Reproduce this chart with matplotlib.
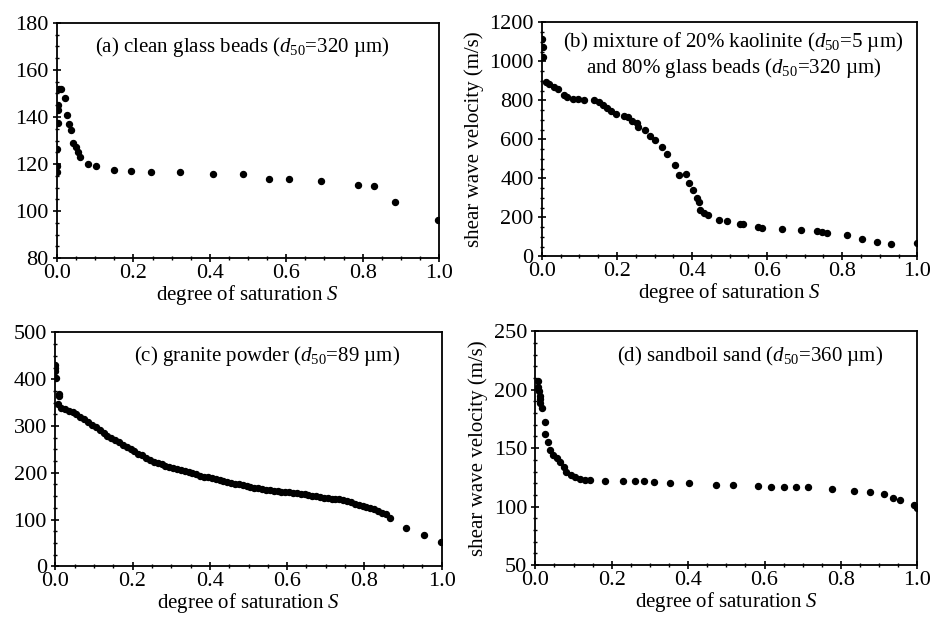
import matplotlib
matplotlib.use("Agg")
import matplotlib.pyplot as plt
from matplotlib.ticker import MultipleLocator

plt.rcParams['font.family'] = ['Liberation Serif', 'DejaVu Serif']
plt.rcParams['mathtext.fontset'] = 'custom'
plt.rcParams['mathtext.rm'] = 'Liberation Serif'
plt.rcParams['mathtext.it'] = 'Liberation Serif:italic'

# (a) clean glass beads
sa = [0.0, 0.0, 0.0, 0.002, 0.002, 0.002, 0.004, 0.011, 0.02, 0.026, 0.032, 0.037,
      0.042, 0.049, 0.054, 0.061, 0.081, 0.102, 0.148, 0.193, 0.247, 0.322, 0.408,
      0.488, 0.556, 0.608, 0.692, 0.788, 0.829, 0.886, 0.997]
va = [116.6, 119.1, 126.2, 137.4, 142.8, 145.0, 152.0, 152.0, 148.2, 140.7, 136.9, 134.6,
      128.9, 127.2, 125.1, 123.0, 120.1, 119.0, 117.6, 117.2, 116.5, 116.5, 115.9,
      115.6, 113.8, 113.8, 113.0, 111.2, 110.6, 103.8, 96.0]

# (b) kaolinite + glass beads
sb = [0.0, 0.002, 0.004, 0.012, 0.02, 0.031, 0.042, 0.058, 0.068, 0.084, 0.095, 0.113,
      0.138, 0.151, 0.163, 0.173, 0.184, 0.198, 0.218, 0.228, 0.24, 0.253, 0.256, 0.274,
      0.287, 0.30, 0.32, 0.332, 0.354, 0.364, 0.385, 0.393, 0.402, 0.412, 0.418, 0.422,
      0.431, 0.442, 0.471, 0.493, 0.527, 0.536, 0.576, 0.587, 0.64, 0.689, 0.733, 0.747,
      0.76, 0.813, 0.853, 0.893, 0.929, 1.0]
vb = [1114, 1072, 1020, 892, 884, 870, 858, 829, 816, 807, 807, 802,
      799, 790, 778, 761, 747, 730, 717, 713, 696, 683, 662, 648,
      619, 594, 560, 526, 469, 415, 423, 375, 341, 300, 278, 235,
      222, 210, 188, 179, 167, 164, 150, 147, 142, 133, 128, 125,
      119, 111, 90, 73, 65, 70]

# (c) granite powder
sc = [0.0, 0.0, 0.0, 0.002, 0.011, 0.01, 0.006,
      0.015, 0.025, 0.035, 0.045, 0.055, 0.065, 0.075, 0.085, 0.095, 0.105,
      0.115, 0.125, 0.135, 0.145, 0.155, 0.165, 0.175, 0.185, 0.195, 0.205,
      0.215, 0.225, 0.235, 0.245, 0.255, 0.265, 0.275, 0.285, 0.295, 0.305,
      0.315, 0.325, 0.335, 0.345, 0.355, 0.365, 0.375, 0.385, 0.395, 0.405,
      0.415, 0.425, 0.435, 0.445, 0.455, 0.465, 0.475, 0.485, 0.495, 0.505,
      0.515, 0.525, 0.535, 0.545, 0.555, 0.565, 0.575, 0.585, 0.595, 0.605,
      0.615, 0.625, 0.635, 0.645, 0.655, 0.665, 0.675, 0.685, 0.695, 0.705,
      0.715, 0.725, 0.735, 0.745, 0.755, 0.765, 0.775, 0.785, 0.795, 0.805,
      0.815, 0.825, 0.835, 0.845, 0.855, 0.865, 0.908, 0.954, 0.997]
vc = [431, 424, 417, 402, 364, 368, 347,
      339, 336, 332, 329, 326, 320, 315, 309, 303, 298,
      291, 284, 279, 274, 270, 265, 260, 255, 250, 246,
      241, 237, 232, 228, 224, 220, 218, 215, 213, 210,
      208, 205, 203, 201, 199, 197, 194, 192, 190, 188,
      186, 184, 183, 181, 179, 177, 175, 173, 171, 170,
      168, 167, 165, 164, 163, 162, 161, 160, 159, 158,
      157, 156, 155, 154, 152, 151, 150, 149, 147, 146,
      145, 144, 143, 141, 139, 137, 134, 131, 129, 127,
      124, 122, 119, 115, 111, 103, 83, 66, 53]

# (d) sandboil sand
sd = [0.006, 0.008, 0.01, 0.011, 0.011, 0.013, 0.016, 0.024, 0.026, 0.032, 0.037, 0.046,
      0.057, 0.065, 0.074, 0.081, 0.092, 0.105, 0.118, 0.131, 0.144, 0.181, 0.229, 0.262,
      0.285, 0.31, 0.353, 0.401, 0.473, 0.517, 0.582, 0.616, 0.651, 0.682, 0.713, 0.776,
      0.833, 0.876, 0.913, 0.937, 0.955, 0.991, 1.0]
vd = [207.4, 202.6, 198.9, 194.7, 191.8, 189.0, 183.9, 172.0, 162.0, 155.0, 148.7, 144.2,
      141.3, 137.9, 133.7, 130.0, 127.2, 125.2, 123.8, 123.2, 123.2, 122.3, 122.3, 122.3,
      121.5, 120.9, 120.4, 120.4, 118.9, 118.1, 117.5, 117.2, 117.2, 117.2, 117.2, 114.7,
      113.8, 112.4, 110.4, 107.6, 105.3, 101.1, 98.8]

fig = plt.figure(figsize=(9.36, 6.19), dpi=100)

panels = [
    ([0.061, 0.583, 0.408, 0.380], sa, va, (80, 180), 20, 5,
     "(a) clean glass beads ($d_{50}$=320 µm)", (0.484, 0.898), False),
    ([0.579, 0.586, 0.401, 0.378], sb, vb, (0, 1200), 200, 50,
     "(b) mixture of 20% kaolinite ($d_{50}$=5 µm)\nand 80% glass beads ($d_{50}$=320 µm)",
     (0.51, 0.86), True),
    ([0.059, 0.085, 0.413, 0.378], sc, vc, (0, 500), 100, 25,
     "(c) granite powder ($d_{50}$=89 µm)", (0.548, 0.898), False),
    ([0.572, 0.087, 0.408, 0.378], sd, vd, (50, 250), 50, 10,
     "(d) sandboil sand ($d_{50}$=360 µm)", (0.563, 0.894), True),
]

for rect, s, v, ylim, ymaj, ymin, note, pos, ylab in panels:
    ax = fig.add_axes(rect)
    ax.plot(s, v, 'o', color='black', ms=4.3, mec='black')
    ax.set_xlim(0, 1.0)
    ax.set_ylim(*ylim)
    ax.xaxis.set_major_locator(MultipleLocator(0.2))
    ax.xaxis.set_minor_locator(MultipleLocator(0.05))
    ax.yaxis.set_major_locator(MultipleLocator(ymaj))
    ax.yaxis.set_minor_locator(MultipleLocator(ymin))
    ax.set_xticklabels(['%.1f' % t for t in ax.get_xticks()])
    ax.tick_params(which='major', direction='inout', length=6, width=1.2,
                   labelsize=16, top=False, right=False)
    ax.tick_params(axis='x', which='major', pad=1)
    ax.tick_params(axis='y', which='major', pad=3)
    ax.tick_params(which='minor', direction='inout', length=3.5, width=1.0,
                   top=False, right=False)
    for sp in ax.spines.values():
        sp.set_linewidth(1.3)
    ax.set_xlabel("degree of saturation $S$", fontsize=15, labelpad=0)
    if ylab:
        ax.set_ylabel("shear wave velocity (m/s)", fontsize=15, labelpad=4)
    ax.text(pos[0], pos[1], note, transform=ax.transAxes, ha='center', va='center',
            fontsize=15, linespacing=1.1)

fig.savefig("out.png", dpi=100)
